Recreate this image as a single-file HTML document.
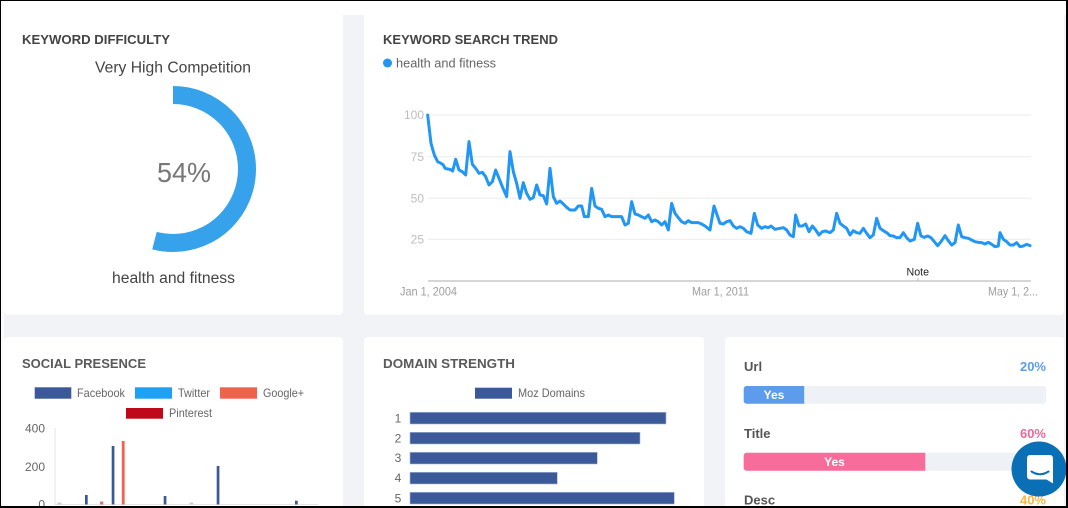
<!DOCTYPE html>
<html><head><meta charset="utf-8"><style>
html,body{margin:0;padding:0;background:#f1f3f7;}
svg{display:block;}
text{font-family:"Liberation Sans",Arial,sans-serif;}
</style></head><body>
<svg width="1068" height="508" viewBox="0 0 1068 508" xmlns="http://www.w3.org/2000/svg">
<rect x="0" y="0" width="1068" height="508" fill="#f1f3f7"/>
<rect x="0" y="0" width="1068" height="15" fill="#ffffff"/>
<rect x="0" y="0" width="4" height="508" fill="#fbfbfc"/>
<!-- cards -->
<rect x="4" y="-5" width="339" height="320" rx="4" fill="#fff"/>
<rect x="364" y="10" width="700" height="305" rx="4" fill="#fff"/>
<rect x="4" y="337" width="339" height="180" rx="4" fill="#fff"/>
<rect x="364" y="337" width="340" height="180" rx="4" fill="#fff"/>
<rect x="725" y="337" width="339" height="180" rx="4" fill="#fff"/>

<!-- Card 1 -->
<text x="22" y="44" font-size="13" font-weight="bold" fill="#444" textLength="148" lengthAdjust="spacingAndGlyphs">KEYWORD DIFFICULTY</text>
<text x="95" y="72.5" font-size="15.5" fill="#444" textLength="156" lengthAdjust="spacingAndGlyphs">Very High Competition</text>
<circle cx="173" cy="169" r="74" fill="none" stroke="#36a2eb" stroke-width="18" stroke-dasharray="251.1 500" transform="rotate(-90 173 169)"/>
<text x="157" y="182" font-size="28" fill="#777" textLength="54" lengthAdjust="spacingAndGlyphs">54%</text>
<text x="112" y="283" font-size="15.5" fill="#444" textLength="123" lengthAdjust="spacingAndGlyphs">health and fitness</text>

<!-- Card 2 -->
<text x="383" y="44" font-size="13" font-weight="bold" fill="#444" textLength="175" lengthAdjust="spacingAndGlyphs">KEYWORD SEARCH TREND</text>
<circle cx="387.5" cy="63" r="4.5" fill="#2196f3"/>
<text x="396" y="67.5" font-size="13" fill="#666" textLength="100" lengthAdjust="spacingAndGlyphs">health and fitness</text>
<g stroke="#ececec" stroke-width="1">
<line x1="428" y1="115" x2="1031" y2="115"/>
<line x1="428" y1="156.7" x2="1031" y2="156.7"/>
<line x1="428" y1="198.3" x2="1031" y2="198.3"/>
<line x1="428" y1="239.3" x2="1031" y2="239.3"/>
</g>
<line x1="428" y1="281" x2="1031" y2="281" stroke="#c8c8c8" stroke-width="1.5"/>
<line x1="918" y1="278" x2="918" y2="281" stroke="#bbb" stroke-width="1"/>
<g font-size="12" fill="#bdbdbd" text-anchor="end">
<text x="424" y="119">100</text>
<text x="424" y="161">75</text>
<text x="424" y="202.5">50</text>
<text x="424" y="243.5">25</text>
</g>
<g font-size="12" fill="#9e9e9e">
<text x="400" y="295.5" textLength="57" lengthAdjust="spacingAndGlyphs">Jan 1, 2004</text>
<text x="692" y="295.5" textLength="57" lengthAdjust="spacingAndGlyphs">Mar 1, 2011</text>
<text x="988" y="295.5" textLength="50" lengthAdjust="spacingAndGlyphs">May 1, 2...</text>
</g>
<text x="906.5" y="275.5" font-size="11" fill="#222" textLength="22.5" lengthAdjust="spacingAndGlyphs">Note</text>
<g transform="translate(395,100) scale(0.33333)">
<polyline fill="none" stroke="#2196f3" stroke-width="9" stroke-linejoin="round" stroke-linecap="round" points="98,45 108,130 118,165 128,185 138,190 145,195 150,205 158,207 165,208 173,213 182,178 192,210 202,215 212,225 222,125 232,193 242,205 252,220 262,217 272,230 282,255 292,245 302,210 312,235 322,260 335,290 345,155 355,215 365,250 375,295 385,248 395,280 405,298 415,293 425,255 435,285 445,287 455,312 465,205 475,290 485,310 495,303 505,312 515,322 525,330 540,330 550,318 560,318 568,350 580,350 590,265 600,318 610,325 620,328 630,350 640,345 650,350 680,350 690,375 700,370 710,305 720,342 730,345 740,350 750,355 760,345 770,365 780,360 790,365 800,375 810,365 820,390 830,310 840,340 850,353 860,365 870,370 880,362 890,368 900,368 910,368 920,372 930,378 945,390 957,318 975,370 985,372 995,365 1005,362 1015,378 1025,385 1035,380 1045,385 1055,395 1068,400 1078,340 1088,375 1100,385 1110,380 1120,383 1128,378 1140,388 1155,385 1165,383 1175,390 1185,405 1195,410 1202,345 1212,378 1222,378 1232,372 1242,395 1252,378 1262,390 1272,405 1282,395 1292,393 1305,398 1315,390 1325,340 1335,370 1345,378 1355,385 1365,405 1375,392 1385,398 1395,400 1405,385 1415,400 1425,413 1435,405 1445,355 1455,385 1465,392 1475,398 1485,407 1495,408 1505,413 1515,413 1525,398 1535,413 1545,423 1558,418 1568,370 1578,408 1588,412 1598,408 1608,413 1618,425 1628,437 1638,425 1650,407 1660,422 1670,435 1680,428 1690,375 1700,410 1710,413 1720,415 1730,420 1740,425 1750,427 1760,428 1770,432 1780,427 1790,433 1800,440 1810,438 1815,398 1825,418 1835,425 1845,435 1855,435 1865,428 1875,440 1885,438 1895,433 1905,437"/>
</g>

<!-- Card 4 Social -->
<text x="22" y="368" font-size="13" font-weight="bold" fill="#5a5a5a" textLength="124" lengthAdjust="spacingAndGlyphs">SOCIAL PRESENCE</text>
<rect x="34.7" y="387.3" width="36.6" height="11.4" fill="#3b5998"/>
<text x="77" y="397" font-size="12" fill="#666" textLength="48" lengthAdjust="spacingAndGlyphs">Facebook</text>
<rect x="135" y="387.3" width="37" height="11.4" fill="#1da1f2"/>
<text x="178" y="397" font-size="12" fill="#666" textLength="32" lengthAdjust="spacingAndGlyphs">Twitter</text>
<rect x="220" y="387.3" width="37" height="11.4" fill="#f0614e"/>
<text x="263" y="397" font-size="12" fill="#666" textLength="41" lengthAdjust="spacingAndGlyphs">Google+</text>
<rect x="126" y="408" width="37" height="10.7" fill="#c0081b"/>
<text x="169" y="417" font-size="12" fill="#666" textLength="43" lengthAdjust="spacingAndGlyphs">Pinterest</text>
<g font-size="12" fill="#666" text-anchor="end">
<text x="45" y="432.5">400</text>
<text x="45" y="471">200</text>
<text x="45" y="508.5">0</text>
</g>
<line x1="55" y1="428" x2="55" y2="505" stroke="#e6e6e6" stroke-width="1"/>
<line x1="55" y1="504.5" x2="318" y2="504.5" stroke="#e6e6e6" stroke-width="1"/>
<rect x="57.5" y="502.5" width="4" height="2" fill="#ccc"/>
<rect x="85" y="495" width="2.7" height="9.5" fill="#3b5998"/>
<rect x="100" y="501.5" width="3.3" height="3" fill="#d9707a"/>
<rect x="111.7" y="446" width="2.7" height="58.5" fill="#3b5998"/>
<rect x="121.8" y="441" width="2.8" height="63.5" fill="#f0614e"/>
<rect x="163.7" y="496" width="2.7" height="8.5" fill="#3b5998"/>
<rect x="189.5" y="502.5" width="3.7" height="2" fill="#ccc"/>
<rect x="216.7" y="466" width="2.7" height="38.5" fill="#3b5998"/>
<rect x="295" y="500.7" width="2.7" height="3.8" fill="#3b5998"/>

<!-- Card 5 Domain -->
<text x="383" y="368" font-size="13" font-weight="bold" fill="#5a5a5a" textLength="132" lengthAdjust="spacingAndGlyphs">DOMAIN STRENGTH</text>
<rect x="475" y="387.7" width="37" height="11" fill="#3b5998"/>
<text x="518" y="397" font-size="12" fill="#666" textLength="67" lengthAdjust="spacingAndGlyphs">Moz Domains</text>
<g font-size="12" fill="#666" text-anchor="middle">
<text x="398" y="422.5">1</text>
<text x="398" y="442.5">2</text>
<text x="398" y="462">3</text>
<text x="398" y="482">4</text>
<text x="398" y="502.5">5</text>
</g>
<g fill="#3c5a9a" stroke="#a9b8d6" stroke-width="0.6">
<rect x="410" y="412.3" width="256" height="11.7"/>
<rect x="410" y="432.3" width="230" height="11.7"/>
<rect x="410" y="452.3" width="187.3" height="11.7"/>
<rect x="410" y="472.3" width="147.3" height="11.7"/>
<rect x="410" y="492.3" width="264.3" height="11.7"/>
</g>

<!-- Card 6 -->
<text x="744" y="371" font-size="13" font-weight="bold" fill="#555">Url</text>
<text x="1046" y="371" font-size="13" font-weight="bold" fill="#5d9cec" text-anchor="end">20%</text>
<rect x="743.7" y="386" width="302.6" height="17.7" rx="3" fill="#eef1f5"/>
<path d="M746.7,386 H804.2 V403.7 H746.7 A3,3 0 0 1 743.7,400.7 V389 A3,3 0 0 1 746.7,386 Z" fill="#5d9cec"/>
<text x="774" y="399" font-size="12" font-weight="bold" fill="#fff" text-anchor="middle">Yes</text>
<text x="744" y="438" font-size="13" font-weight="bold" fill="#555">Title</text>
<text x="1046" y="438" font-size="13" font-weight="bold" fill="#f0679a" text-anchor="end">60%</text>
<rect x="743.7" y="452.7" width="302.6" height="18" rx="3" fill="#eef1f5"/>
<path d="M746.7,452.7 H925.3 V470.7 H746.7 A3,3 0 0 1 743.7,467.7 V455.7 A3,3 0 0 1 746.7,452.7 Z" fill="#f76c9b"/>
<text x="834.5" y="466" font-size="12" font-weight="bold" fill="#fff" text-anchor="middle">Yes</text>
<text x="744" y="504.5" font-size="13" font-weight="bold" fill="#555">Desc</text>
<text x="1046" y="504.5" font-size="13" font-weight="bold" fill="#f7b843" text-anchor="end">40%</text>

<!-- chat widget -->
<circle cx="1039" cy="469" r="27.5" fill="#0a6fb5"/>
<path d="M1030,455 H1050 A3,3 0 0 1 1053,458 V483.5 L1046.5,479.5 H1030 A3,3 0 0 1 1027,476.5 V458 A3,3 0 0 1 1030,455 Z" fill="#fff"/>
<path d="M1031.5,471.5 Q1040,477 1048.5,471.5" fill="none" stroke="#0a6fb5" stroke-width="2" stroke-linecap="round"/>

<!-- outer black frame -->
<rect x="0" y="0" width="1068" height="1" fill="#000"/>
<rect x="0" y="0" width="1" height="508" fill="#000"/>
<rect x="1066" y="0" width="2" height="508" fill="#000"/>
<rect x="0" y="506" width="1068" height="2" fill="#000"/>
</svg>
</body></html>
